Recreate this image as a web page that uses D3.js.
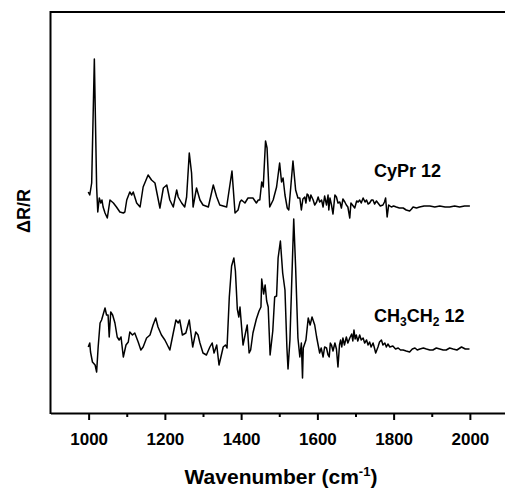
<!DOCTYPE html>
<html>
<head>
<meta charset="utf-8">
<script src="https://cdn.jsdelivr.net/npm/d3@7/dist/d3.min.js"></script>
<style>
  html, body { margin: 0; padding: 0; background: #fff; overflow: hidden; }
  text { font-family: "Liberation Sans", Arial, sans-serif; font-weight: bold; fill: #000; }
</style>
</head>
<body>
<svg id="chart" width="505" height="490"></svg>
<script>
// ---- data (wavenumber cm^-1, ΔR/R arbitrary units incl. vertical offset) ----
const cyprSpectrum = [
  [999,221],[1003,218],[1008,230],[1015,354],[1021,226],[1024,201],[1028,215],[1032,210],[1035,213],[1038,206],
  [1043,200],[1049,195],[1056,213],[1065,210],[1073,206],[1082,201],[1091,200],[1095,201],[1100,213],[1108,221],
  [1113,218],[1117,221],[1126,210],[1135,206],[1143,226],[1156,238],[1165,233],[1174,230],[1187,205],[1196,225],
  [1205,228],[1213,213],[1222,206],[1231,223],[1235,216],[1244,210],[1252,206],[1257,216],[1264,260],[1270,240],
  [1274,206],[1283,225],[1292,213],[1300,208],[1314,206],[1327,228],[1336,216],[1344,208],[1362,206],[1376,242],
  [1384,200],[1392,203],[1397,211],[1401,213],[1410,210],[1418,215],[1423,215],[1431,215],[1440,210],[1445,213],
  [1449,213],[1454,231],[1458,226],[1464,272],[1468,265],[1475,206],[1484,213],[1493,226],[1501,250],[1506,231],
  [1510,235],[1515,218],[1521,205],[1525,203],[1530,225],[1536,252],[1543,223],[1549,215],[1554,215],[1558,203],
  [1562,214],[1567,216],[1570,210],[1573,219],[1576,218],[1580,212],[1583,218],[1589,213],[1593,208],[1598,211],
  [1602,216],[1606,211],[1611,213],[1615,206],[1619,217],[1624,208],[1628,218],[1630,203],[1633,215],[1637,208],
  [1641,199],[1646,218],[1650,216],[1654,210],[1659,211],[1663,205],[1667,214],[1672,211],[1676,208],[1680,206],
  [1685,195],[1688,210],[1692,208],[1698,205],[1703,212],[1707,211],[1711,213],[1715,210],[1720,215],[1725,211],
  [1729,213],[1733,209],[1737,210],[1742,213],[1746,213],[1750,209],[1755,212],[1759,210],[1765,207],[1772,208],
  [1776,211],[1779,215],[1783,196],[1787,208],[1794,206],[1800,207],[1807,206],[1815,205],[1825,205],[1833,203],
  [1842,202],[1847,204],[1851,206],[1860,205],[1868,206],[1880,207],[1895,207],[1908,206],[1921,207],[1935,206],
  [1947,206],[1960,207],[1973,206],[1986,207],[2000,207]
];
const ch3ch2Spectrum = [
  [999,66],[1003,70],[1005,61],[1010,51],[1017,48],[1021,41],[1025,66],[1030,90],[1034,93],[1043,105],
  [1047,98],[1051,98],[1054,76],[1058,101],[1063,98],[1069,90],[1075,76],[1080,73],[1085,76],[1091,56],
  [1098,68],[1104,71],[1108,81],[1115,78],[1121,80],[1130,71],[1137,63],[1143,66],[1152,75],[1161,78],
  [1169,88],[1176,95],[1182,86],[1191,78],[1200,73],[1204,70],[1213,63],[1222,80],[1229,93],[1235,90],
  [1239,93],[1246,78],[1255,80],[1264,93],[1273,66],[1281,81],[1287,78],[1292,70],[1300,60],[1309,58],
  [1318,66],[1324,70],[1329,60],[1336,68],[1342,48],[1347,56],[1353,66],[1359,68],[1363,65],[1369,116],
  [1375,147],[1381,155],[1385,142],[1390,104],[1394,96],[1397,106],[1405,68],[1412,81],[1416,88],[1421,60],
  [1425,63],[1431,80],[1440,94],[1447,102],[1452,106],[1454,134],[1459,119],[1463,128],[1467,112],[1471,106],
  [1476,58],[1483,82],[1488,116],[1493,117],[1497,155],[1503,172],[1509,140],[1515,123],[1520,66],[1523,44],
  [1528,73],[1532,122],[1538,194],[1543,145],[1549,75],[1554,56],[1558,70],[1561,35],[1563,65],[1570,73],
  [1576,95],[1581,88],[1586,96],[1593,88],[1598,76],[1606,60],[1610,65],[1615,56],[1619,66],[1624,65],
  [1628,58],[1631,56],[1634,70],[1637,68],[1641,62],[1646,70],[1650,64],[1654,46],[1658,68],[1661,73],
  [1664,66],[1667,75],[1671,68],[1676,76],[1680,70],[1685,75],[1690,79],[1693,72],[1696,83],[1699,74],
  [1702,78],[1706,72],[1711,78],[1715,73],[1720,75],[1724,70],[1729,73],[1733,68],[1737,71],[1741,66],
  [1746,70],[1749,66],[1753,60],[1759,66],[1763,71],[1768,73],[1772,68],[1777,70],[1781,66],[1785,69],
  [1790,66],[1798,67],[1805,64],[1812,65],[1818,63],[1825,63],[1833,62],[1842,61],[1849,64],[1856,65],
  [1862,63],[1869,64],[1878,65],[1886,64],[1895,63],[1903,63],[1912,65],[1921,64],[1930,63],[1938,63],
  [1947,65],[1956,64],[1966,63],[1978,66],[1988,64],[1999,64]
];
const majorTicks = [1000, 1200, 1400, 1600, 1800, 2000];
const minorTicks = [1100, 1300, 1500, 1700, 1900];
const xTitle = "Wavenumber (cm";
const xTitleSup = "-1";
const yTitle = "ΔR/R";
const seriesLabels = ["CyPr 12", "CH3CH2 12"];

// ---- scales ----
const svg = d3.select("#chart");
const x = d3.scaleLinear().domain([900, 2100]).range([50.5, 508]);
const y = d3.scaleLinear().domain([0, 401]).range([413, 12]);

// frame (left, top)
const frame = svg.append("g").attr("stroke", "#000").attr("stroke-width", 2).attr("fill", "none");
frame.append("line").attr("x1", x(900)).attr("x2", x(900)).attr("y1", y(401) - 1).attr("y2", y(0) + 1);
frame.append("line").attr("x1", x(900)).attr("x2", x(2100)).attr("y1", y(401)).attr("y2", y(401));

// bottom axis with major ticks
const gx = svg.append("g").attr("transform", `translate(0,${y(0)})`)
  .call(d3.axisBottom(x).tickValues(majorTicks).tickFormat(d3.format("d")).tickSize(7).tickSizeOuter(0).tickPadding(25));
gx.select(".domain").attr("stroke-width", 2);
gx.selectAll(".tick line").attr("stroke-width", 2);
gx.selectAll(".tick text").attr("font-size", 17).attr("font-family", '"Liberation Sans", Arial, sans-serif').attr("font-weight", "bold").attr("dy", "0");
// minor ticks
const gm = svg.append("g").attr("transform", `translate(0,${y(0)})`)
  .call(d3.axisBottom(x).tickValues(minorTicks).tickFormat("").tickSize(4).tickSizeOuter(0));
gm.select(".domain").remove();
gm.selectAll(".tick line").attr("stroke-width", 2);

// axis titles
const xt = svg.append("text").attr("x", 281).attr("y", 484).attr("text-anchor", "middle").attr("font-size", 21);
xt.append("tspan").text(xTitle);
xt.append("tspan").attr("font-size", 13).attr("dy", -8).text(xTitleSup);
xt.append("tspan").attr("dy", 8).text(")");

svg.append("text").attr("transform", "translate(30,211) rotate(-90)")
  .attr("text-anchor", "middle").attr("font-size", 18).text(yTitle);

// spectra
const line = d3.line().x(d => x(d[0])).y(d => y(d[1]));
[cyprSpectrum, ch3ch2Spectrum].forEach(s => {
  svg.append("path").datum(s).attr("d", line)
    .attr("fill", "none").attr("stroke", "#000").attr("stroke-width", 1.5).attr("stroke-linejoin", "round");
});

// series labels
svg.append("text").attr("x", 374).attr("y", 177).attr("font-size", 18).text(seriesLabels[0]);
const l2 = svg.append("text").attr("x", 374).attr("y", 322).attr("font-size", 18);
l2.append("tspan").text("CH");
l2.append("tspan").attr("font-size", 12).attr("dy", 4).text("3");
l2.append("tspan").attr("dy", -4).text("CH");
l2.append("tspan").attr("font-size", 12).attr("dy", 4).text("2");
l2.append("tspan").attr("dy", -4).text(" 12");
</script>
</body>
</html>
